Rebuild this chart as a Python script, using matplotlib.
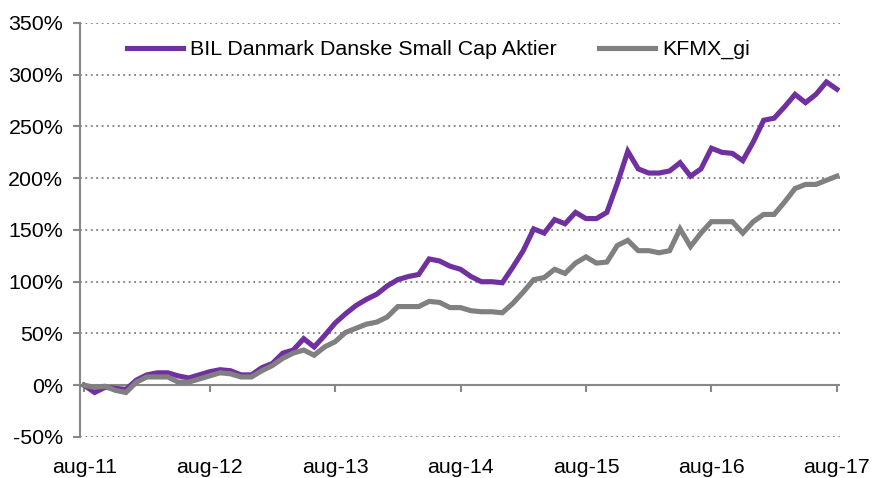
"""
BIL Danmark Danske Small Cap Aktier vs KFMX_gi, cumulative return aug-11 .. aug-17
monthly points, values read off the original chart

    python plot.py   ->  out.png
"""

import matplotlib
matplotlib.use("Agg")
import matplotlib.pyplot as plt
from matplotlib.ticker import FuncFormatter

# month index 0 = aug-11, 72 = aug-17
months = list(range(73))

bil = [0, -7, -2, -3, -4, 5, 10, 12, 12, 9, 7, 10,
       13, 15, 14, 10, 10, 17, 21, 31, 34, 45, 37, 48,
       60, 69, 77, 83, 88, 96, 102, 105, 107, 122, 120, 115,
       112, 105, 100, 100, 99, 114, 130, 151, 147, 160, 156, 167,
       161, 161, 167, 195, 226, 209, 205, 205, 207, 215, 202, 209,
       229, 225, 224, 217, 235, 256, 258, 269, 281, 273, 281, 293,
       286]

kfmx = [0, -2, -1, -5, -7, 3, 8, 8, 8, 3, 3, 6,
        9, 12, 11, 8, 8, 14, 19, 26, 31, 34, 29, 37,
        42, 51, 55, 59, 61, 66, 76, 76, 76, 81, 80, 75,
        75, 72, 71, 71, 70, 79, 90, 102, 104, 112, 108, 118,
        124, 118, 119, 135, 140, 130, 130, 128, 130, 151, 134, 147,
        158, 158, 158, 147, 158, 165, 165, 177, 190, 194, 194, 198,
        202]

tick_pos = [0, 12, 24, 36, 48, 60, 72]
tick_labels = ["aug-11", "aug-12", "aug-13", "aug-14", "aug-15", "aug-16", "aug-17"]
y_ticks = [-50, 0, 50, 100, 150, 200, 250, 300, 350]

plt.rcParams["font.family"] = ["Liberation Sans", "DejaVu Sans"]
FS = 15.4
AXC = "#888888"

fig = plt.figure(figsize=(8.75, 4.78), dpi=100)
ax = fig.add_axes([0.0914, 0.0858, 0.8686, 0.8662])

ax.plot(months, bil, color="#7030A0", lw=3.7, solid_joinstyle="miter",
        label="BIL Danmark Danske Small Cap Aktier", zorder=3)
ax.plot(months, kfmx, color="#808080", lw=3.7, solid_joinstyle="miter",
        label="KFMX_gi", zorder=3)

ax.set_xlim(-0.4, 72.3)
ax.set_ylim(-50, 350)

# dotted gridlines, 0% is the solid axis line
ax.set_yticks(y_ticks)
for v in y_ticks:
    if v != 0:
        ax.axhline(v, color="#7f7f7f", lw=1.3, ls=(0, (1, 2)), zorder=1)
ax.axhline(0, color=AXC, lw=1.5, zorder=2)
ax.yaxis.set_major_formatter(FuncFormatter(lambda v, _: f"{v:.0f}%"))

ax.set_xticks(tick_pos)
ax.set_xticklabels(tick_labels)
ax.tick_params(axis="x", length=0, pad=15, labelsize=FS)
ax.tick_params(axis="y", length=5, width=1.5, color=AXC, pad=7, labelsize=FS)

for s in ["top", "right", "bottom"]:
    ax.spines[s].set_visible(False)
ax.spines["left"].set_color(AXC)
ax.spines["left"].set_linewidth(1.5)

# tick marks hang off the 0% line (excel style)
sec = ax.secondary_xaxis(0.125)
sec.set_xticks(tick_pos)
sec.set_xticklabels([])
sec.tick_params(length=5, width=1.5, color=AXC)
sec.spines["bottom"].set_visible(False)

ax.legend(loc="upper center", bbox_to_anchor=(0.472, 1.005), ncol=2, frameon=False,
          fontsize=FS, handlelength=2.6, handletextpad=0.35, columnspacing=2.0)

fig.savefig("out.png", dpi=100)
